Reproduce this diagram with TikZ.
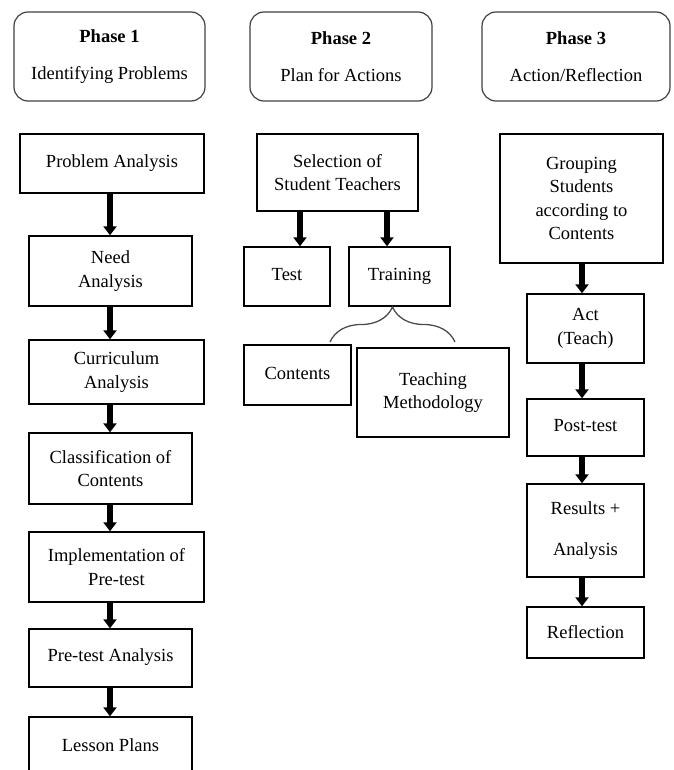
\documentclass[tikz,border=0pt]{standalone}
\usepackage{fontspec}
\setmainfont{Liberation Serif}
\usetikzlibrary{arrows.meta,decorations.pathreplacing}
\begin{document}
\begin{tikzpicture}[x=1pt,y=-1pt]
\tikzstyle{every node}=[font=\fontsize{18.5}{23.5}\selectfont]
\tikzstyle{phase}=[draw=black!75,line width=1.2pt,rounded corners=14pt,align=center,minimum height=89pt,inner sep=0pt]
\tikzstyle{box}=[draw,line width=1.4pt,align=center,inner sep=0pt]
\tikzstyle{flow}=[line width=5.5pt,-{Triangle[width=13pt,length=9pt]}]
\tikzstyle{brace}=[draw=black!70,line width=1.3pt,decorate,decoration={brace,amplitude=35pt}]
\useasboundingbox (0,0) rectangle (673,770);
\node[phase,minimum width=191pt] (p1) at (109.5,56.5) {\textbf{Phase 1}\\[14pt]Identifying Problems};
\node[phase,minimum width=182pt] (p2) at (341,56.5) {\textbf{Phase 2}\\[14pt]Plan for Actions};
\node[phase,minimum width=188pt] (p3) at (576,56.5) {\textbf{Phase 3}\\[14pt]Action/Reflection};
\node[box,minimum width=184pt,minimum height=59pt] (pa) at (112,163.5) {\raisebox{3pt}{Problem Analysis}};
\node[box,minimum width=163pt,minimum height=70pt] (na) at (110.5,271) {Need\\Analysis};
\node[box,minimum width=175pt,minimum height=64pt] (ca) at (116.5,372) {Curriculum\\Analysis};
\node[box,minimum width=163pt,minimum height=71pt] (cc) at (110.5,468.5) {Classification of\\Contents};
\node[box,minimum width=175pt,minimum height=70pt] (ip) at (116.5,567) {Implementation of\\Pre-test};
\node[box,minimum width=163pt,minimum height=58pt] (pt) at (110.5,658) {\raisebox{5pt}{Pre-test Analysis}};
\node[box,minimum width=163pt,minimum height=60pt] (lp) at (110.5,747) {\raisebox{3pt}{Lesson Plans}};
\node[box,minimum width=161pt,minimum height=77pt] (sel) at (337.5,172.5) {Selection of\\Student Teachers};
\node[box,minimum width=86pt,minimum height=59pt] (test) at (287,276.5) {\raisebox{5pt}{Test}};
\node[box,minimum width=101pt,minimum height=59pt] (tr) at (399.5,276.5) {\raisebox{5pt}{Training}};
\node[box,minimum width=107pt,minimum height=60pt] (cont) at (297.5,375) {\raisebox{4pt}{Contents}};
\node[box,minimum width=152pt,minimum height=89pt] (tm) at (433,392.5) {Teaching\\Methodology};
\node[box,minimum width=163pt,minimum height=129pt] (gr) at (581.5,198.5) {Grouping\\Students\\according to\\Contents};
\node[box,minimum width=117pt,minimum height=69pt] (act) at (585.5,328.5) {Act\\(Teach)};
\node[box,minimum width=117pt,minimum height=57pt] (post) at (585.5,427.5) {\raisebox{4pt}{Post-test}};
\node[box,minimum width=117pt,minimum height=93pt] (res) at (585.5,530.5) {Results +\\[17pt]Analysis};
\node[box,minimum width=117pt,minimum height=51pt] (refl) at (585.5,632.5) {Reflection};
\coordinate (a1) at (110,0);
\coordinate (a2) at (300,0);
\coordinate (a3) at (387,0);
\coordinate (a4) at (582,0);
\coordinate (bl) at (330,342);
\coordinate (br) at (455,342);
\draw[flow] (pa.south -| a1) -- (na.north -| a1);
\draw[flow] (na.south -| a1) -- (ca.north -| a1);
\draw[flow] (ca.south -| a1) -- (cc.north -| a1);
\draw[flow] (cc.south -| a1) -- (ip.north -| a1);
\draw[flow] (ip.south -| a1) -- (pt.north -| a1);
\draw[flow] (pt.south -| a1) -- (lp.north -| a1);
\draw[flow] (sel.south -| a2) -- (test.north -| a2);
\draw[flow] (sel.south -| a3) -- (tr.north -| a3);
\draw[flow] (gr.south -| a4) -- (act.north -| a4);
\draw[flow] (act.south -| a4) -- (post.north -| a4);
\draw[flow] (post.south -| a4) -- (res.north -| a4);
\draw[flow] (res.south -| a4) -- (refl.north -| a4);
\draw[brace] (bl) -- (br);
\end{tikzpicture}
\end{document}
